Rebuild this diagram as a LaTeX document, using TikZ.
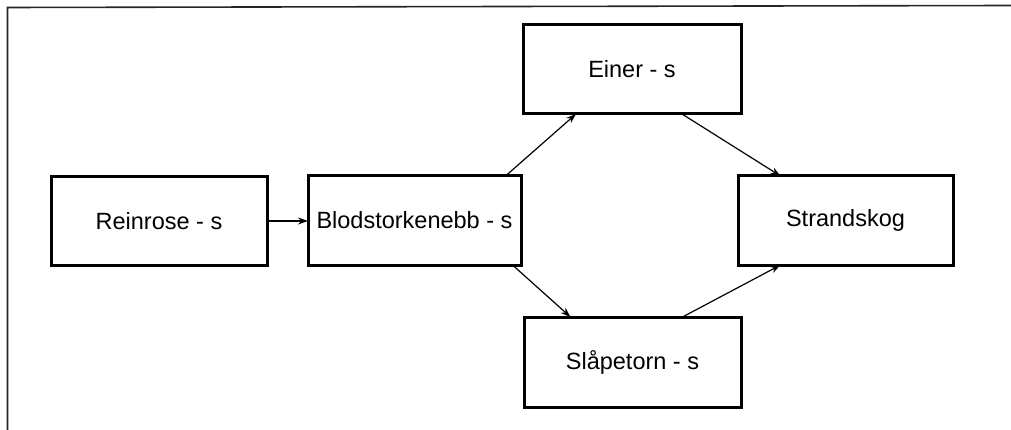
\documentclass[tikz,border=0pt]{standalone}
\usepackage{fontspec}
\setmainfont{Liberation Sans}
\usetikzlibrary{arrows.meta}
\begin{document}
\begin{tikzpicture}[x=1pt,y=-1pt,
  box/.style={draw=black, line width=3pt, rectangle, inner sep=0pt, outer sep=0pt,
    font=\fontsize{23.5}{28}\selectfont},
  conn/.style={line width=1.2pt, -{Stealth[length=10pt,width=7pt]}},
  frame/.style={line width=1.6pt, draw=black!85}]
\useasboundingbox (0,0) rectangle (1011,430);
\coordinate (ftl) at (7.5,7.5);
\coordinate (ftr) at (1011,5.5);
\coordinate (fbl) at (7.5,430);
\draw[frame] (ftr) -- (ftl) -- (fbl);
\node[box, minimum width=216pt, minimum height=89pt] (rein) at (159,221) {Reinrose - s};
\node[box, minimum width=213pt, minimum height=89pt] (blod) at (414.5,220.5) {Blodstorkenebb - s};
\node[box, minimum width=218pt, minimum height=89pt] (einer) at (632,69.5) {Einer - s};
\node[box, minimum width=215pt, minimum height=89pt] (strand) at (845.5,220.5) {Strandskog};
\node[box, minimum width=217pt, minimum height=90pt] (slape) at (632.5,362) {Slåpetorn - s};
\draw[conn] (rein.east) -- (rein.east -| blod.west);
\draw[conn] ([xshift=91pt]blod.north) -- ([xshift=-56pt]einer.south);
\draw[conn] ([xshift=50pt]einer.south) -- ([xshift=-65pt]strand.north);
\draw[conn] ([xshift=98pt]blod.south) -- ([xshift=-62pt]slape.north);
\draw[conn] ([xshift=50pt]slape.north) -- ([xshift=-65pt]strand.south);
\end{tikzpicture}
\end{document}
